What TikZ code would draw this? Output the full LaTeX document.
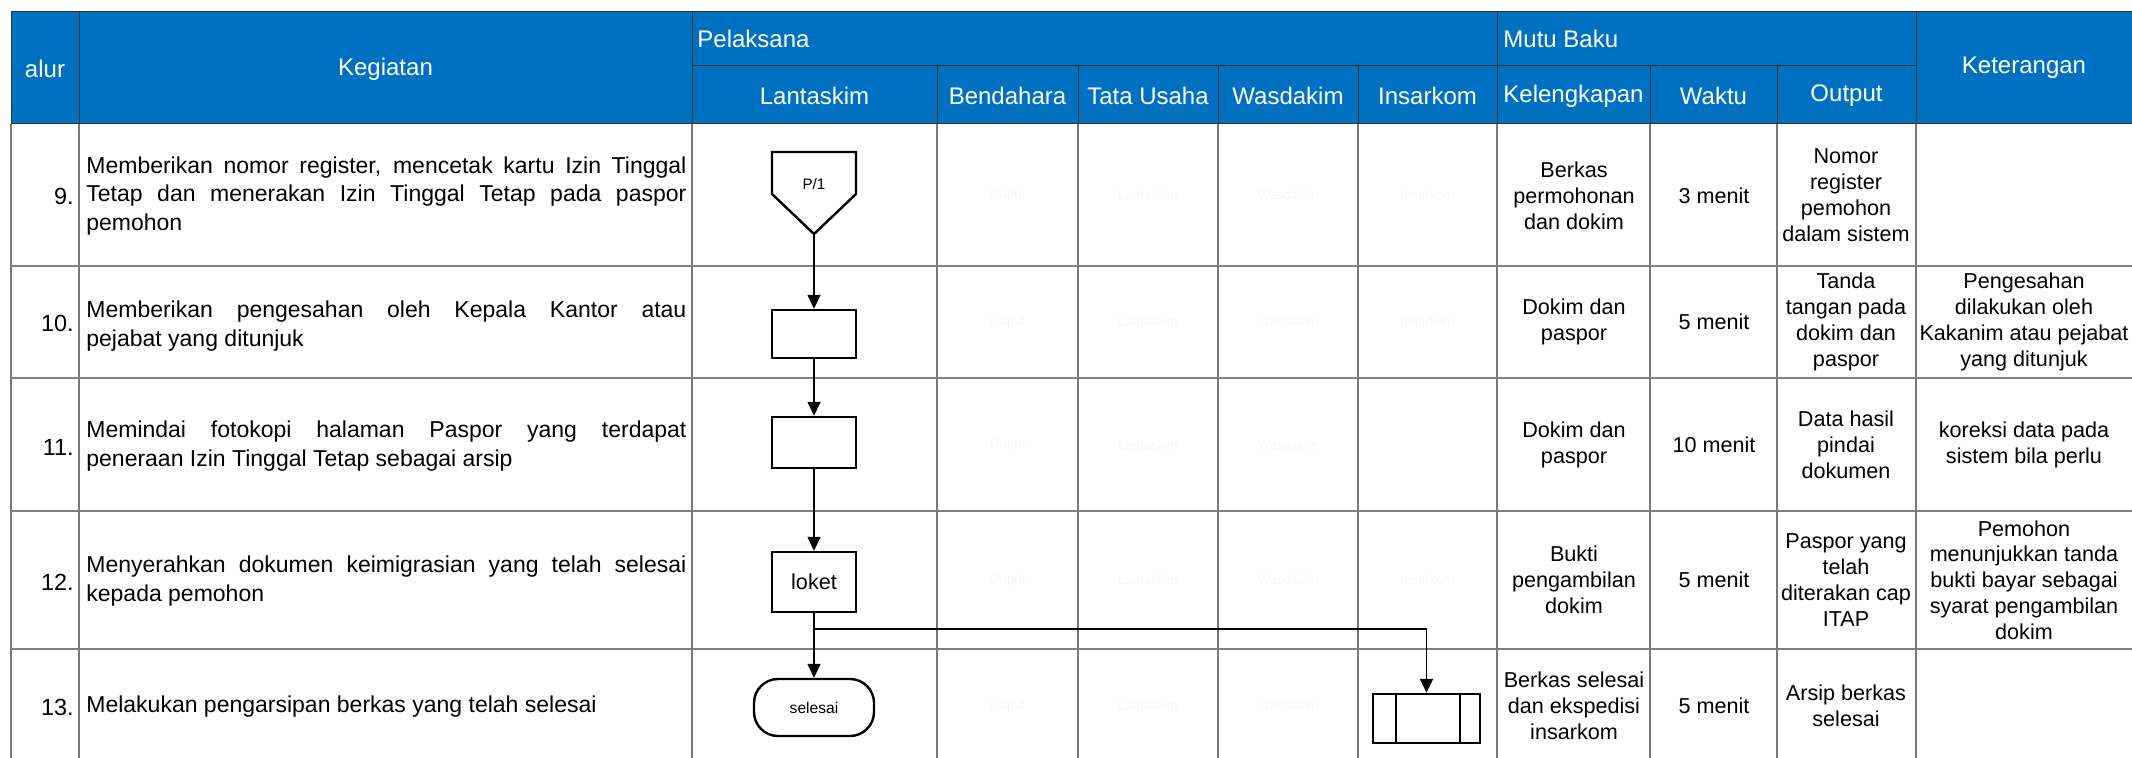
\documentclass[tikz,border=0pt]{standalone}
\usepackage{fontspec}
\setmainfont{Liberation Sans}
\usetikzlibrary{arrows.meta,calc}
\definecolor{hdrblue}{RGB}{0,112,192}
\definecolor{gridgray}{RGB}{120,120,120}
\newcommand{\kegfont}{\fontsize{11.5}{14.2}\selectfont\tolerance=10000\relax\hyphenpenalty=10000\relax}
\begin{document}
\begin{tikzpicture}[x=0.5pt,y=-0.5pt,
  hdr/.style={text=white,font=\fontsize{12}{14}\selectfont,inner sep=0pt},
  hdrline/.style={draw=black!80,line width=0.5pt},
  vline/.style={draw=gridgray,line width=0.6pt},
  hline/.style={draw=black!50,line width=1.1pt},
  keg/.style={text width=300pt,align=justify,anchor=west,inner sep=0pt,font=\kegfont},
  num/.style={anchor=east,inner sep=0pt,font=\fontsize{11.7}{14.2}\selectfont},
  cell/.style={align=center,inner sep=0pt,font=\fontsize{10.8}{12.9}\selectfont},
  ghost/.style={text=black!3,inner sep=0pt,font=\fontsize{6.5}{8}\selectfont},
  shp/.style={draw=black,line width=1.2pt,fill=white},
  proc/.style={shp,minimum width=42pt,inner sep=0pt,font=\fontsize{10.8}{12.9}\selectfont},
  conn/.style={draw=black,line width=0.8pt,-{Triangle[length=7pt,width=6.5pt]}}
]
\useasboundingbox (0,0) rectangle (2132,758);

% ---------- header ----------
\fill[hdrblue] (11,12) rectangle (2132,124);
\draw[hdrline] (11,12) -- (2132,12);
\draw[hdrline] (11,124) -- (2132,124);
\draw[hdrline] (11,12) -- (11,124);
\foreach \x in {79,692,1497,1916} \draw[hdrline] (\x,12) -- (\x,124);
\draw[hdrline] (692,66) -- (1916,66);
\foreach \x in {937,1078,1218,1358,1650,1777} \draw[hdrline] (\x,66) -- (\x,124);

\node[hdr] (halur) at (45,69) {alur};
\node[hdr] (hkeg) at (385.5,69) {Kegiatan};
\node[hdr,anchor=west] (hpel) at (697,39) {Pelaksana};
\node[hdr,anchor=west] (hmutu) at (1503,39) {Mutu Baku};
\node[hdr] (hket) at (2024,68) {Keterangan};
\node[hdr] (hlan) at (814.5,96) {Lantaskim};
\node[hdr] (hben) at (1007.5,96) {Bendahara};
\node[hdr] (htu) at (1148,96) {Tata Usaha};
\node[hdr] (hwas) at (1288,96) {Wasdakim};
\node[hdr] (hins) at (1427.5,96) {Insarkom};
\node[hdr] (hkel) at (1573.5,96) {Kelengkapan};
\node[hdr] (hwak) at (1713.5,96) {Waktu};
\node[hdr] (hout) at (1846.5,96) {Output};

% ---------- body grid ----------
\foreach \x in {11,79,692,937,1078,1218,1358,1497,1650,1777,1916} \draw[vline] (\x,124) -- (\x,758);
\foreach \y in {266,378,511,649} \draw[hline] (11,\y) -- (2132,\y);

% ---------- numbers ----------
\node[num] (n9) at (74,196) {9.};
\node[num] (n10) at (74,323) {10.};
\node[num] (n11) at (74,447) {11.};
\node[num] (n12) at (74,582) {12.};
\node[num] (n13) at (74,707) {13.};

% ---------- kegiatan ----------
\node[keg] (k9) at (86,196) {Memberikan nomor register, mencetak kartu Izin Tinggal\linebreak Tetap dan menerakan Izin Tinggal Tetap pada paspor\linebreak pemohon};
\node[keg] (k10) at (86,326) {Memberikan pengesahan oleh Kepala Kantor atau\linebreak pejabat yang ditunjuk};
\node[keg] (k11) at (86,446) {Memindai fotokopi halaman Paspor yang terdapat\linebreak peneraan Izin Tinggal Tetap sebagai arsip};
\node[keg] (k12) at (86,581) {Menyerahkan dokumen keimigrasian yang telah selesai\linebreak kepada pemohon};
\node[keg] (k13) at (86,707) {Melakukan pengarsipan berkas yang telah selesai};

% ---------- faint placeholder texts ----------
\foreach \y/\r in {195/a,322/b,445/c,580/d,706/e}{
  \node[ghost] (go\r) at (1007.5,\y) {Ouput};
  \node[ghost] (gl\r) at (1148,\y) {Lantaskim};
  \node[ghost] (gw\r) at (1288,\y) {Wasdakim};
}
\foreach \y/\r in {195/a,322/b,580/d}{
  \node[ghost] (gi\r) at (1427.5,\y) {Insarkom};
}

% ---------- mutu baku & keterangan ----------
\node[cell] (kel9) at (1574,196) {Berkas\\permohonan\\dan dokim};
\node[cell] (wak9) at (1714,196) {3 menit};
\node[cell] (out9) at (1846,195) {Nomor\\register\\pemohon\\dalam sistem};

\node[cell] (kel10) at (1574,322) {Dokim dan\\paspor};
\node[cell] (wak10) at (1714,322) {5 menit};
\node[cell] (out10) at (1846,322) {Tanda\\tangan pada\\dokim dan\\paspor};
\node[cell] (ket10) at (2024,322) {Pengesahan\\dilakukan oleh\\Kakanim atau pejabat\\yang ditunjuk};

\node[cell] (kel11) at (1574,445) {Dokim dan\\paspor};
\node[cell] (wak11) at (1714,445) {10 menit};
\node[cell] (out11) at (1846,445) {Data hasil\\pindai\\dokumen};
\node[cell] (ket11) at (2024,445) {koreksi data pada\\sistem bila perlu};

\node[cell] (kel12) at (1574,580) {Bukti\\pengambilan\\dokim};
\node[cell] (wak12) at (1714,580) {5 menit};
\node[cell] (out12) at (1846,580) {Paspor yang\\telah\\diterakan cap\\ITAP};
\node[cell] (ket12) at (2024,580) {Pemohon\\menunjukkan tanda\\bukti bayar sebagai\\syarat pengambilan\\dokim};

\node[cell] (kel13) at (1574,706) {Berkas selesai\\dan ekspedisi\\insarkom};
\node[cell] (wak13) at (1714,706) {5 menit};
\node[cell] (out13) at (1846,706) {Arsip berkas\\selesai};

% ---------- flow shapes ----------
\draw[shp] (772,152) -- (856,152) -- (856,194) -- (814,234) -- (772,194) -- cycle;
\node[inner sep=0pt,font=\fontsize{7.6}{9}\selectfont] (p1) at (814,184) {P/1};
\coordinate (p1tip) at (814,234);

\node[proc,minimum height=24pt] (b10) at (814,334) {};
\node[proc,minimum height=25.5pt] (b11) at (814,442.5) {};
\node[proc,minimum height=30pt] (loket) at (814,582) {loket};
\node[shp,minimum width=60pt,minimum height=28.5pt,rounded corners=12pt,inner sep=0pt,
      font=\fontsize{7.8}{9}\selectfont] (selesai) at (814,707.5) {selesai};
\node[shp,minimum width=53.5pt,minimum height=24.5pt,inner sep=0pt] (arsip) at (1426.5,718.5) {};
\draw[shp] ($(arsip.north west)+(24,0)$) -- ($(arsip.south west)+(24,0)$);
\draw[shp] ($(arsip.north east)+(-21,0)$) -- ($(arsip.south east)+(-21,0)$);

% ---------- connectors ----------
\draw[conn] (p1tip) -- (b10.north);
\draw[conn] (b10.south) -- (b11.north);
\draw[conn] (b11.south) -- (loket.north);
\draw[conn] (loket.south) -- (selesai.north);
\coordinate (br) at (814,629);
\draw[conn] (br) -| (arsip.north);
\end{tikzpicture}
\end{document}
